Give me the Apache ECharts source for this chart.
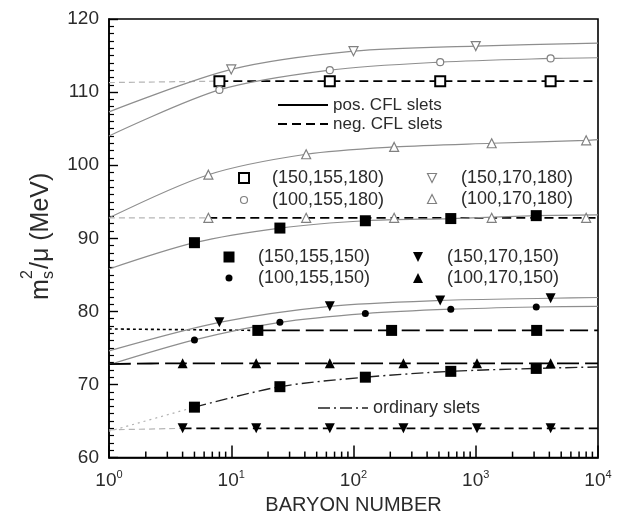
<!DOCTYPE html>
<html><head><meta charset="utf-8">
<script src="https://cdn.jsdelivr.net/npm/echarts@6/dist/echarts.min.js"></script>
<style>html,body{margin:0;padding:0;background:#fff}#c{width:620px;height:520px}</style>
</head><body><div id="c"></div>
<script>
// ---- baryon numbers (x values) of each family of points ----
const N_cube = [1, 8, 64, 512, 4096, 10000];
const N_dec  = [1, 10, 100, 1000, 10000];
const N_tri  = [1, 6.5, 41, 215, 1350, 8000, 10000];
const N_p5   = [1, 5, 25, 125, 625, 3125, 10000];
const N_p4   = [1, 4, 16, 64, 256, 1024, 4096, 10000];
const N_sqN  = [1, 16.5, 205, 3150, 10000];

// ---- m_s^2/mu (MeV) values ----
const sq180Neg = [111.3, 111.5, 111.5, 111.5, 111.5, 111.5];
const dn180Pos = [107.3, 113.1, 115.6, 116.3, 116.7];
const ci180Pos = [104.0, 110.3, 113.0, 114.1, 114.6, 114.7];
const up180Pos = [92.8, 98.7, 101.5, 102.5, 103.0, 103.4, 103.5];
const up180Neg = [92.8, 92.8, 92.8, 92.8, 92.8, 92.8, 92.8];
const sq150Pos = [85.8, 89.4, 91.4, 92.4, 92.7, 93.1, 93.2];
const sq150Neg = [77.6, 77.4, 77.4, 77.4, 77.4];
const dn150Pos = [74.6, 78.5, 80.7, 81.5, 81.8, 81.9];
const ci150Pos = [72.7, 76.1, 78.5, 79.7, 80.3, 80.6, 80.7];
const up150Pos = [72.8, 72.9, 72.9, 72.9, 72.9, 72.9, 72.9, 72.9];
const sq150Ord = [63.6, 66.9, 69.7, 71.0, 71.8, 72.2, 72.4];
const dn150Neg = [63.8, 64.0, 64.0, 64.0, 64.0, 64.0, 64.0, 64.0];

// ---- axis ticks / labels ----
const xExponents = [0, 1, 2, 3, 4];
const xMinor = [2,3,4,5,6,7,8,9,20,30,40,50,60,70,80,90,200,300,400,500,600,700,800,900,2000,3000,4000,5000,6000,7000,8000,9000];
const yMin = 60, yMax = 120, yStep = 10;

// ---- legend texts ----
const lineLegend = ['pos. CFL slets', 'neg. CFL slets'];
const set180 = ['(150,155,180)', '(150,170,180)', '(100,155,180)', '(100,170,180)'];
const set150 = ['(150,155,150)', '(150,170,150)', '(100,155,150)', '(100,170,150)'];
const ordLegend = 'ordinary slets';

const TXT = '#2b2b2b';
const GRAY = '#8e8e8e';
const FONT = 'Liberation Sans, Arial, sans-serif';

function pts(N, V) {
  return N.map((n, i) => ({
    value: [n, V[i]],
    symbol: (n === 1 || n === 10000) ? 'none' : undefined
  }));
}
const SYM = {
  sqO: {symbol: 'rect', symbolSize: 10, itemStyle: {color: '#fff', borderColor: '#000', borderWidth: 2}},
  dnO: {symbol: 'triangle', symbolRotate: 180, symbolSize: 9, itemStyle: {color: '#fff', borderColor: '#808080', borderWidth: 1.2}},
  ciO: {symbol: 'circle', symbolSize: 7, itemStyle: {color: '#fff', borderColor: '#808080', borderWidth: 1.2}},
  upO: {symbol: 'triangle', symbolSize: 9, itemStyle: {color: '#fff', borderColor: '#808080', borderWidth: 1.2}},
  sqF: {symbol: 'rect', symbolSize: 11, itemStyle: {color: '#000'}},
  dnF: {symbol: 'triangle', symbolRotate: 180, symbolSize: 10, itemStyle: {color: '#000'}},
  ciF: {symbol: 'circle', symbolSize: 7, itemStyle: {color: '#000'}},
  upF: {symbol: 'triangle', symbolSize: 10, itemStyle: {color: '#000'}}
};
const series = [];
function curve(name, N, V, sym, line, lead) {
  if (lead) {
    series.push({
      name: name + ' lead', type: 'line', data: pts(N.slice(0, 2), V.slice(0, 2)),
      symbol: 'none', smooth: 0.3, clip: true, silent: true,
      lineStyle: lead, z: 2
    });
    N = N.slice(1); V = V.slice(1);
  }
  series.push(Object.assign({
    name: name, type: 'line', data: pts(N, V), smooth: 0.3,
    clip: true, lineStyle: line, z: 3
  }, SYM[sym]));
}
const posL = {color: GRAY, width: 1.2, type: 'solid'};
const negL = {color: '#000', width: 1.8, type: [9, 5]};
const leadL = {color: '#b5b5b5', width: 1.2, type: [6, 4]};

curve('(150,155,180) neg', N_cube, sq180Neg, 'sqO', negL, leadL);
curve('(150,170,180) pos', N_dec, dn180Pos, 'dnO', posL);
curve('(100,155,180) pos', N_cube, ci180Pos, 'ciO', posL);
curve('(100,170,180) pos', N_tri, up180Pos, 'upO', posL);
curve('(100,170,180) neg', N_tri, up180Neg, 'upO', negL, leadL);
curve('(150,155,150) pos', N_p5, sq150Pos, 'sqF', posL);
curve('(150,155,150) neg', N_sqN, sq150Neg, 'sqF', {color: '#000', width: 1.8, type: [18, 6]}, {color: '#000', width: 1.6, type: [3, 3]});
curve('(150,170,150) pos', N_cube, dn150Pos, 'dnF', posL);
curve('(100,155,150) pos', N_p5, ci150Pos, 'ciF', posL);
curve('(100,170,150) pos', N_p4, up150Pos, 'upF', {color: '#000', width: 1.8, type: [22, 6]});
curve('(150,155,150) ord', N_p5, sq150Ord, 'sqF', {color: '#222', width: 1.4, type: [12, 4, 2, 4]}, {color: '#b0b0b0', width: 1.2, type: [2, 4]});
curve('(150,170,150) neg', N_p4, dn150Neg, 'dnF', negL, leadL);

// minor ticks of the log axis, placed through the axis scale
series.push({
  type: 'custom', name: 'minor ticks', silent: true, z: 6,
  data: xMinor.map(v => [v, yMin]),
  renderItem: function (params, api) {
    const p = api.coord([api.value(0), api.value(1)]);
    return {type: 'line', shape: {x1: p[0], y1: p[1], x2: p[0], y2: p[1] - 6}, style: {stroke: '#000', lineWidth: 1.5}};
  }
});

// ---- legend graphics ----
const g = [];
function txt(x, y, s, size) {
  g.push({type: 'text', x: x, y: y, style: {text: s, fill: TXT, font: (size || 18) + 'px ' + FONT, textVerticalAlign: 'middle'}, z: 10});
}
function seg(x1, x2, y, ls) {
  g.push({type: 'line', shape: {x1: x1, y1: y, x2: x2, y2: y}, style: {stroke: ls.color, lineWidth: ls.width, lineDash: ls.dash || null}, z: 10});
}
function mark(kind, x, y) {
  const s = SYM[kind];
  const it = s.itemStyle;
  const style = {fill: it.color, stroke: it.borderColor || null, lineWidth: it.borderWidth || 0};
  const r = s.symbolSize / 2;
  if (s.symbol === 'rect') g.push({type: 'rect', shape: {x: x - r, y: y - r, width: 2 * r, height: 2 * r}, style: style, z: 10});
  else if (s.symbol === 'circle') g.push({type: 'circle', shape: {cx: x, cy: y, r: r}, style: style, z: 10});
  else {
    const d = s.symbolRotate ? -1 : 1;
    g.push({type: 'polygon', shape: {points: [[x, y - d * r], [x + r, y + d * r], [x - r, y + d * r]]}, style: style, z: 10});
  }
}
seg(278, 328, 105, {color: '#000', width: 2});
txt(333, 105, lineLegend[0], 17);
seg(278, 328, 124, {color: '#000', width: 2, dash: [9, 5]});
txt(333, 124, lineLegend[1], 17);

mark('sqO', 244, 178); txt(272, 178, set180[0]);
mark('dnO', 432, 178); txt(461, 178, set180[1]);
mark('ciO', 244, 200); txt(272, 200, set180[2]);
mark('upO', 432, 199); txt(461, 199, set180[3]);

mark('sqF', 229, 257); txt(258, 257, set150[0]);
mark('dnF', 418, 257); txt(447, 257, set150[1]);
mark('ciF', 229, 278); txt(258, 278, set150[2]);
mark('upF', 418, 278); txt(447, 278, set150[3]);

seg(318, 368, 408, {color: '#222', width: 1.6, dash: [12, 4, 2, 4]});
txt(373, 408, ordLegend);

// y axis title m_s^2/mu (MeV), rotated
g.push({
  type: 'group', x: 41, y: 232, rotation: Math.PI / 2, z: 10,
  children: [
    {type: 'text', x: -68, y: 0, style: {text: 'm', fill: TXT, font: '25px ' + FONT, textVerticalAlign: 'middle'}},
    {type: 'text', x: -47, y: 8, style: {text: 's', fill: TXT, font: '16px ' + FONT, textVerticalAlign: 'middle'}},
    {type: 'text', x: -47, y: -13, style: {text: '2', fill: TXT, font: '16px ' + FONT, textVerticalAlign: 'middle'}},
    {type: 'text', x: -37, y: 0, style: {text: '/\u03bc (MeV)', fill: TXT, font: '25px ' + FONT, textVerticalAlign: 'middle'}}
  ]
});

const chart = echarts.init(document.getElementById('c'));
chart.setOption({
  animation: false,
  grid: {left: 109, right: 22, top: 19, bottom: 59, show: true, borderColor: '#000', borderWidth: 1.6},
  xAxis: {
    type: 'log', logBase: 10, min: 1, max: 10000,
    name: 'BARYON NUMBER', nameLocation: 'middle', nameGap: 37,
    nameTextStyle: {color: TXT, fontSize: 20, fontFamily: FONT},
    axisLine: {show: true, lineStyle: {color: '#000', width: 1.6}},
    axisTick: {show: true, inside: true, length: 12, lineStyle: {color: '#000', width: 1.5}},
    splitLine: {show: false},
    axisLabel: {
      margin: 12, color: TXT, fontFamily: FONT,
      formatter: v => '{b|10}{s|' + xExponents[Math.round(Math.log10(v))] + '}',
      rich: {b: {fontSize: 19, lineHeight: 22, fontFamily: FONT, color: TXT}, s: {fontSize: 11, lineHeight: 11, verticalAlign: 'top', fontFamily: FONT, color: TXT}}
    }
  },
  yAxis: {
    type: 'value', min: yMin, max: yMax, interval: yStep,
    axisLine: {show: true, lineStyle: {color: '#000', width: 1.6}},
    axisTick: {show: true, inside: true, length: 9, lineStyle: {color: '#000', width: 1.4}},
    minorTick: {show: true, splitNumber: 10, length: 5, lineStyle: {color: '#000', width: 1.2}},
    splitLine: {show: false},
    axisLabel: {margin: 10, color: TXT, fontSize: 19, fontFamily: FONT}
  },
  series: series,
  graphic: g
});
</script></body></html>
